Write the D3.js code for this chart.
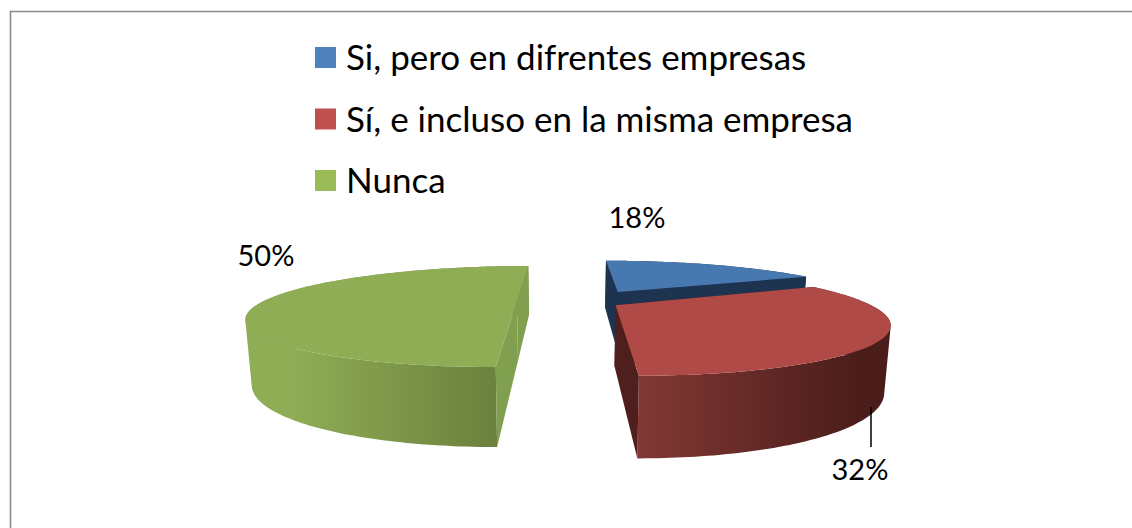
<!DOCTYPE html>
<html>
<head>
<meta charset="utf-8">
<script src="https://cdn.jsdelivr.net/npm/d3@7"></script>
<style>
  html, body { margin: 0; padding: 0; background: #fff; }
  text { font-family: Lato, "Open Sans", sans-serif; fill: #000; }
</style>
</head>
<body>
<script>
const categories = ['Si, pero en difrentes empresas', 'Sí, e incluso en la misma empresa', 'Nunca'];
const values = [18, 32, 50];
const valueLabels = ['18%', '32%', '50%'];

const legendColors = ['#4f81bd', '#c0504d', '#9bbb59'];
const topColors = ['#4878b0', '#af4a46', '#8fad55'];
const sideColors = ['#1e3350', '#4e1f1d', '#80a04f'];
// wall shading runs left to right on the page
const wallGradients = [
  { from: 600, to: 810, colors: ['#1e3350', '#1e3350'] },
  { from: 636, to: 860, colors: ['#833834', '#4a1d1b'] },
  { from: 499, to: 290, colors: ['#6b803c', '#8fad55'] }
];

const width = 1132,
  height = 528,
  // camera: vanishing point of the receding lines, tilt of the verticals
  vanish = { x: 565, y: 152 },
  widthRatio = [1.72, 1.667, 1.70],
  depthUnit = 0.00206,
  wallScale = 1.307,
  wallShift = 14,
  wallPinch = 0.98,
  // exploded apex of every slice, in camera units
  apex = [
    { x: 0.377, q: 0.00714 },
    { x: 0.33, q: 0.00653 },
    { x: -0.322, q: 0.00671 }
  ],
  drawOrder = [0, 2, 1],
  labelPos = [[637, 218], [860, 470], [266, 256]];

const svg = d3.select('body').append('svg')
  .attr('width', width)
  .attr('height', height)
  .style('display', 'block');

const frame = d3.path();
frame.moveTo(width, 11.5);
frame.lineTo(10.5, 11.5);
frame.lineTo(10.5, height);
svg.append('path')
  .attr('d', frame.toString())
  .attr('fill', 'none')
  .attr('stroke', '#8c8c8c')
  .attr('stroke-width', 1.6);

const slices = d3.pie().sort(null)(values);

// top of the slice at pie angle a (radians, clockwise from the back)
const topPoint = (i, a, r = 1) => {
  const q = apex[i].q + depthUnit * r * Math.cos(a);
  return [vanish.x + (apex[i].x + widthRatio[i] * r * Math.sin(a)) / q, vanish.y + 1 / q];
};
const bottomPoint = (i, a, r = 1) => {
  const p = topPoint(i, a, r);
  return [
    vanish.x + (p[0] - vanish.x) * wallPinch,
    vanish.y + (p[1] - vanish.y) * wallScale + wallShift
  ];
};
const line = d3.line();
const defs = svg.append('defs');

drawOrder.forEach(i => {
  const s = slices[i];
  const g = svg.append('g').attr('class', 'slice');
  const steps = d3.range(s.startAngle, s.endAngle, Math.PI / 180).concat([s.endAngle]);

  const grad = defs.append('linearGradient')
    .attr('id', `wall-${i}`)
    .attr('gradientUnits', 'userSpaceOnUse')
    .attr('x1', wallGradients[i].from)
    .attr('x2', wallGradients[i].to)
    .attr('y1', 0)
    .attr('y2', 0);
  grad.selectAll('stop')
    .data(wallGradients[i].colors)
    .enter().append('stop')
    .attr('offset', (d, k) => k)
    .attr('stop-color', d => d);

  // outer wall: one path of small quads, all wound the same way so the fold fills
  const wall = d3.pairs(steps).map(([a, b]) => {
    const quad = [topPoint(i, a), topPoint(i, b), bottomPoint(i, b), bottomPoint(i, a)];
    return line(d3.polygonArea(quad) < 0 ? quad.reverse() : quad) + 'Z';
  }).join('');
  g.append('path')
    .attr('d', wall)
    .attr('fill', `url(#wall-${i})`);

  // radial cut faces
  [s.startAngle, s.endAngle].forEach(a => {
    g.append('path')
      .attr('d', line([topPoint(i, a, 0), topPoint(i, a), bottomPoint(i, a), bottomPoint(i, a, 0)]) + 'Z')
      .attr('fill', sideColors[i]);
  });

  // top face
  g.append('path')
    .attr('d', line([topPoint(i, s.startAngle, 0)].concat(steps.map(a => topPoint(i, a)))) + 'Z')
    .attr('fill', topColors[i]);
});

// leader line of the 32% label
svg.append('line')
  .attr('x1', 871).attr('y1', 407)
  .attr('x2', 871).attr('y2', 447)
  .attr('stroke', '#000')
  .attr('stroke-width', 1.5);

svg.append('g').selectAll('text')
  .data(valueLabels)
  .enter().append('text')
  .attr('x', (d, i) => labelPos[i][0])
  .attr('y', (d, i) => labelPos[i][1])
  .attr('dy', '0.35em')
  .attr('text-anchor', 'middle')
  .attr('font-size', 29)
  .text(d => d);

const legend = svg.append('g').selectAll('g')
  .data(categories)
  .enter().append('g')
  .attr('transform', (d, i) => `translate(315,${47 + i * 61.5})`);

legend.append('rect')
  .attr('width', 21)
  .attr('height', 21)
  .attr('fill', (d, i) => legendColors[i]);

legend.append('text')
  .attr('x', 31)
  .attr('y', 23)
  .attr('font-size', 35)
  .text(d => d);
</script>
</body>
</html>
